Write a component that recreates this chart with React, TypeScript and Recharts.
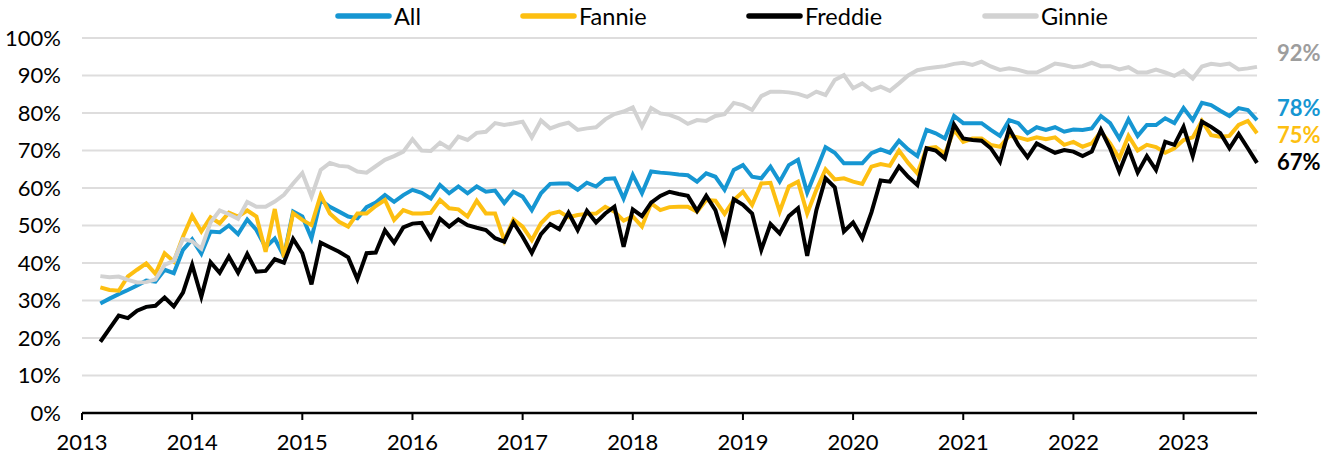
import React from 'react';
import { LineChart, Line, XAxis, YAxis, CartesianGrid } from 'recharts';

// monthly series, March 2013 through September 2023 (share, %)
const FIRST_YEAR = 2013;
const FIRST_MONTH = 2;

const allShare = [
  29.2, 30.5, 31.7, 32.8, 34.0, 35.3, 35.0, 38.2, 37.3, 43.5,
  46.3, 42.5, 48.4, 48.2, 50.0, 47.7, 51.6, 48.8, 44.2, 46.5, 41.8, 53.7,
  52.4, 46.6, 56.8, 55.0, 53.7, 52.4, 51.9, 54.9, 56.1, 58.1, 56.3, 58.1,
  59.5, 58.7, 57.2, 60.8, 58.6, 60.4, 58.6, 60.4, 59.0, 59.3, 56.0, 59.0,
  57.7, 54.1, 58.6, 61.1, 61.2, 61.2, 59.5, 61.4, 60.4, 62.4, 62.6, 57.2,
  63.5, 58.6, 64.4, 64.1, 63.9, 63.6, 63.4, 61.7, 63.9, 63.0, 59.5, 64.8,
  66.1, 63.0, 62.6, 65.7, 61.7, 66.1, 67.5, 58.8, 64.8, 70.9, 69.4, 66.6,
  66.6, 66.6, 69.3, 70.3, 69.4, 72.6, 70.3, 68.5, 75.5, 74.6, 73.2, 79.2,
  77.3, 77.3, 77.3, 75.5, 73.9, 78.1, 77.3, 74.6, 76.2, 75.5, 76.2, 75.0,
  75.6, 75.5, 75.9, 79.2, 77.3, 73.2, 78.3, 73.9, 76.8, 76.8, 78.6, 77.3,
  81.3, 78.1, 82.7, 82.1, 80.6, 79.2, 81.3, 80.8, 78.1,
];

const fannieShare = [
  33.5, 32.8, 32.6, 36.4, 38.2, 39.9, 37.1, 42.6, 40.4, 47.0,
  52.6, 48.4, 52.2, 50.6, 53.4, 52.4, 54.0, 52.4, 43.0, 54.4, 41.5, 53.3,
  51.5, 50.1, 58.1, 53.2, 51.0, 49.7, 53.2, 53.2, 55.2, 56.8, 51.5, 54.1,
  53.2, 53.2, 53.4, 56.8, 54.6, 54.3, 52.4, 56.6, 53.2, 53.2, 46.0, 51.6,
  49.7, 46.1, 50.6, 53.1, 53.7, 52.2, 52.8, 53.1, 53.2, 55.0, 53.7, 51.3,
  52.4, 49.7, 55.9, 54.1, 54.9, 55.0, 55.0, 53.7, 56.8, 56.6, 53.1, 56.8,
  59.0, 55.5, 61.2, 61.4, 53.7, 60.4, 61.7, 53.2, 59.5, 65.0, 62.3, 62.6,
  61.7, 61.1, 65.7, 66.4, 65.9, 70.0, 66.7, 63.9, 70.6, 70.9, 69.1, 75.5,
  72.3, 73.2, 73.2, 71.5, 71.0, 73.9, 73.5, 72.8, 73.5, 73.0, 73.5, 71.5,
  72.3, 71.0, 71.9, 75.0, 71.9, 67.9, 73.9, 70.0, 71.5, 70.9, 69.4, 70.6,
  72.8, 73.5, 77.9, 74.1, 73.7, 73.9, 76.8, 77.9, 74.6,
];

const freddieShare = [
  19.0, 22.5, 26.0, 25.3, 27.3, 28.3, 28.6, 30.8, 28.4, 32.1,
  39.5, 31.0, 40.2, 37.4, 41.7, 37.4, 42.4, 37.7, 37.9, 41.0, 40.1, 46.4,
  42.6, 34.3, 45.4, 44.2, 43.0, 41.5, 35.7, 42.6, 42.8, 48.7, 45.4, 49.5,
  50.5, 50.7, 46.6, 51.8, 49.7, 51.6, 50.1, 49.4, 48.8, 46.6, 45.7, 50.8,
  47.0, 42.7, 47.7, 50.4, 49.0, 53.4, 48.8, 53.9, 50.8, 53.2, 55.0, 44.3,
  54.3, 52.5, 56.1, 57.9, 59.0, 58.4, 57.9, 53.9, 57.9, 54.1, 45.9, 57.0,
  55.5, 53.2, 43.5, 50.4, 47.9, 52.5, 54.6, 41.9, 54.1, 62.6, 60.2, 48.4,
  50.8, 46.6, 53.5, 62.0, 61.7, 65.7, 63.0, 60.8, 70.6, 70.0, 67.9, 76.9,
  73.2, 72.8, 72.6, 70.6, 67.0, 75.9, 71.5, 68.2, 71.9, 70.6, 69.4, 70.1,
  69.7, 68.5, 69.7, 75.5, 70.6, 64.4, 70.6, 64.1, 68.5, 64.8, 72.3, 71.5,
  76.3, 68.5, 77.7, 76.3, 74.6, 70.6, 74.4, 70.6, 66.7,
];

const ginnieShare = [
  36.5, 36.2, 36.4, 35.5, 34.8, 34.9, 35.6, 39.5, 40.6, 46.4,
  45.8, 43.8, 50.8, 54.0, 53.0, 51.8, 56.3, 55.0, 55.0, 56.4, 58.2, 61.2,
  64.0, 57.7, 64.8, 66.7, 65.9, 65.7, 64.4, 64.1, 65.8, 67.5, 68.5, 69.7,
  73.0, 70.0, 69.9, 72.1, 70.6, 73.7, 72.8, 74.7, 75.0, 77.3, 76.8, 77.2,
  77.7, 73.5, 78.0, 75.9, 76.8, 77.4, 75.5, 75.9, 76.2, 78.3, 79.7, 80.4,
  81.5, 76.4, 81.3, 79.9, 79.5, 78.6, 77.1, 78.1, 77.9, 79.2, 79.7, 82.7,
  82.1, 80.8, 84.5, 85.7, 85.7, 85.5, 85.1, 84.3, 85.7, 84.8, 88.8, 90.1,
  86.6, 87.9, 86.1, 87.0, 85.9, 87.9, 90.0, 91.4, 91.9, 92.2, 92.5, 93.1,
  93.4, 92.8, 93.7, 92.4, 91.5, 91.9, 91.5, 90.8, 90.8, 91.9, 93.2, 92.8,
  92.2, 92.5, 93.4, 92.5, 92.5, 91.6, 92.2, 90.8, 90.8, 91.6, 90.8, 89.9,
  91.3, 89.2, 92.4, 93.1, 92.8, 93.2, 91.6, 91.9, 92.3,
];

const yearTicks = [2013, 2014, 2015, 2016, 2017, 2018, 2019, 2020, 2021, 2022, 2023];
const percentTicks = [0, 10, 20, 30, 40, 50, 60, 70, 80, 90, 100];

const data = allShare.map((v, i) => ({
  t: FIRST_YEAR + (FIRST_MONTH + i) / 12,
  all: v,
  fannie: fannieShare[i],
  freddie: freddieShare[i],
  ginnie: ginnieShare[i],
}));

const lastT = data[data.length - 1].t;

const series = [
  { key: 'all', name: 'All', color: '#1696D2', labelColor: '#1696D2', labelDy: -12, legendX: 334 },
  { key: 'fannie', name: 'Fannie', color: '#FDBF11', labelColor: '#FDBF11', labelDy: 2, legendX: 519 },
  { key: 'freddie', name: 'Freddie', color: '#000000', labelColor: '#000000', labelDy: -1, legendX: 745 },
  { key: 'ginnie', name: 'Ginnie', color: '#D2D2D2', labelColor: '#9D9D9D', labelDy: -14, legendX: 981 },
];

const FONT = 'Lato, "Open Sans", sans-serif';

const endLabel = (color: string, dyOffset: number) => (props: any) => {
  const { x, y, value, index } = props;
  if (index !== data.length - 1) return null;
  return (
    <text
      x={x + 20}
      y={y + dyOffset}
      dy="0.35em"
      fill={color}
      fontSize={22}
      fontWeight={700}
      fontFamily={FONT}
      textAnchor="start"
    >
      {Math.round(value)}%
    </text>
  );
};

const LegendRow = () => (
  <>
    {series.map((s) => (
      <div
        key={s.key}
        style={{
          position: 'absolute',
          top: 5,
          left: s.legendX,
          display: 'flex',
          alignItems: 'center',
          fontFamily: FONT,
          fontSize: 23.5,
          lineHeight: '22px',
          color: '#000',
          whiteSpace: 'nowrap',
        }}
      >
        <svg width={58} height={10} style={{ display: 'block' }}>
          <line x1={4} y1={5} x2={55} y2={5} stroke={s.color} strokeWidth={5.5} strokeLinecap="round" />
        </svg>
        <span style={{ marginLeft: 2 }}>{s.name}</span>
      </div>
    ))}
  </>
);

const App: React.FC = () => {
  return (
    <div style={{ position: 'absolute', left: 0, top: 0, width: 1334, height: 457, background: '#fff' }}>
      <LineChart
        width={1334}
        height={457}
        data={data}
        margin={{ top: 38, right: 77, bottom: 0, left: 0 }}
        style={{ fontFamily: FONT }}
      >
        <CartesianGrid vertical={false} stroke="#DEDDDD" strokeWidth={2} />
        <XAxis
          dataKey="t"
          type="number"
          domain={[FIRST_YEAR, lastT]}
          ticks={yearTicks}
          tickFormatter={(v) => String(v)}
          height={44}
          tick={{ fill: '#000', fontSize: 22, fontFamily: FONT }}
          axisLine={{ stroke: '#000', strokeWidth: 2.5 }}
          tickLine={{ stroke: '#000', strokeWidth: 2 }}
          tickSize={7}
          tickMargin={14}
        />
        <YAxis
          domain={[0, 100]}
          ticks={percentTicks}
          tickFormatter={(v) => `${v}%`}
          width={82}
          tick={{ fill: '#000', fontSize: 22, fontFamily: FONT }}
          axisLine={false}
          tickLine={false}
          tickSize={0}
          tickMargin={21}
        />
        {series.map((s) => (
          <Line
            key={s.key}
            type="linear"
            dataKey={s.key}
            name={s.name}
            stroke={s.color}
            strokeWidth={4}
            dot={false}
            activeDot={false}
            isAnimationActive={false}
            label={endLabel(s.labelColor, s.labelDy)}
          />
        ))}
      </LineChart>
      <LegendRow />
    </div>
  );
};

export default App;
